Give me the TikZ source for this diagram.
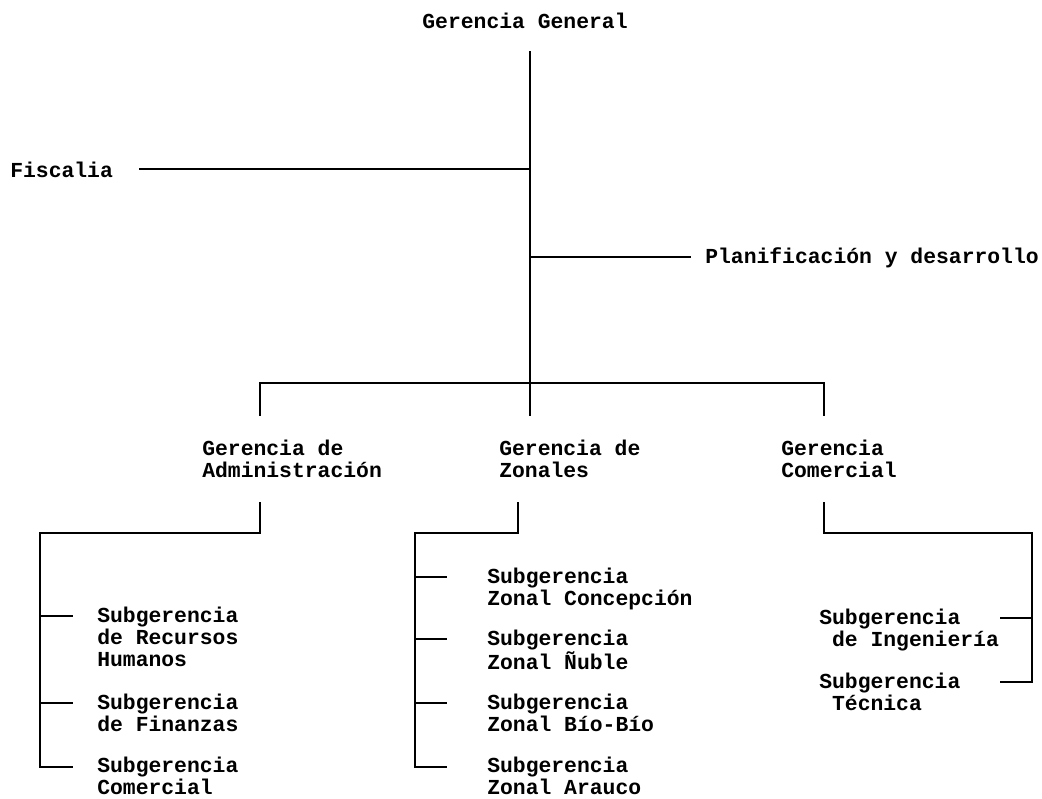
\documentclass[tikz,border=0pt]{standalone}
\usepackage{fontspec}
\setmonofont{Liberation Mono}
\usetikzlibrary{calc,positioning}

\begin{document}
\begin{tikzpicture}[x=0.025cm, y=-0.025cm,
  unit/.style={inner sep=0pt, align=left, anchor=north west,
               font=\ttfamily\bfseries\fontsize{15.2}{15.4}\selectfont},
  link/.style={line width=1.3pt, line cap=rect}]
  \useasboundingbox (0,0) rectangle (1042,798);

  % top level
  \node[unit, anchor=base] (gg) at (525,28) {Gerencia General};
  \node[unit, anchor=base west] (fisc) at (10,177) {Fiscalia};
  \node[unit, anchor=base west] (plan) at (705,263) {Planificación y desarrollo};

  \coordinate (trunk) at (530,52);
  \coordinate (hub) at (530,383);
  \coordinate (hubL) at (260,383);
  \coordinate (hubR) at (824,383);
  \coordinate (dropL) at (260,415);
  \coordinate (dropC) at (530,415);
  \coordinate (dropR) at (824,415);

  \draw[link] (trunk) -- (dropC);
  \draw[link] ($(fisc.east)+(27,0)$) -- (fisc.east -| trunk);
  \draw[link] (plan.west -| trunk) -- ($(plan.west)+(-15,0)$);
  \draw[link] (dropL) -- (hubL) -- (hubR) -- (dropR);

  % second level
  \node[unit] (adm) at (202,440) {Gerencia de\\Administración};
  \node[unit] (zon) at (499,440) {Gerencia de\\Zonales};
  \node[unit] (com) at (781,440) {Gerencia\\Comercial};

  % Administracion
  \coordinate (admA) at (260,503);
  \coordinate (admB) at (40,533);
  \coordinate (admC) at (40,767);
  \draw[link] (admA) |- (admB) -- (admC);
  \coordinate (a1) at (40,616);
  \coordinate (a2) at (40,703);
  \coordinate (a3) at (40,767);
  \draw[link] (a1) -- ++(32,0);
  \draw[link] (a2) -- ++(32,0);
  \draw[link] (a3) -- ++(32,0);
  \node[unit] (rrhh) at ($(a1)+(57,-9)$) {Subgerencia\\de Recursos\\Humanos};
  \node[unit] (fin) at ($(a2)+(57,-9)$) {Subgerencia\\de Finanzas};
  \node[unit] (scom) at ($(a3)+(57,-10)$) {Subgerencia\\Comercial};

  % Zonales
  \coordinate (zonA) at (518,503);
  \coordinate (zonB) at (415,533);
  \coordinate (zonC) at (415,767);
  \draw[link] (zonA) |- (zonB) -- (zonC);
  \coordinate (z1) at (415,577);
  \coordinate (z2) at (415,639);
  \coordinate (z3) at (415,703);
  \coordinate (z4) at (415,767);
  \draw[link] (z1) -- ++(31,0);
  \draw[link] (z2) -- ++(31,0);
  \draw[link] (z3) -- ++(31,0);
  \draw[link] (z4) -- ++(31,0);
  \node[unit] (conc) at ($(z1)+(72,-9)$) {Subgerencia\\Zonal Concepción};
  \node[unit] (nuble) at ($(z2)+(72,-9)$) {Subgerencia\\Zonal Ñuble};
  \node[unit] (bio) at ($(z3)+(72,-9)$) {Subgerencia\\Zonal Bío-Bío};
  \node[unit] (arauco) at ($(z4)+(72,-10)$) {Subgerencia\\Zonal Arauco};

  % Comercial
  \coordinate (comA) at (824,503);
  \coordinate (comB) at (1032,533);
  \coordinate (comC) at (1032,682);
  \draw[link] (comA) |- (comB) -- (comC);
  \coordinate (c1) at (1032,618);
  \coordinate (c2) at (1032,682);
  \draw[link] (c1) -- ++(-31,0);
  \draw[link] (c2) -- ++(-31,0);
  \node[unit] (ing) at ($(c1)+(-213,-9)$) {Subgerencia\\\hphantom{S}de Ingeniería};
  \node[unit] (tec) at ($(c2)+(-213,-9)$) {Subgerencia\\\hphantom{S}Técnica};
\end{tikzpicture}
\end{document}
